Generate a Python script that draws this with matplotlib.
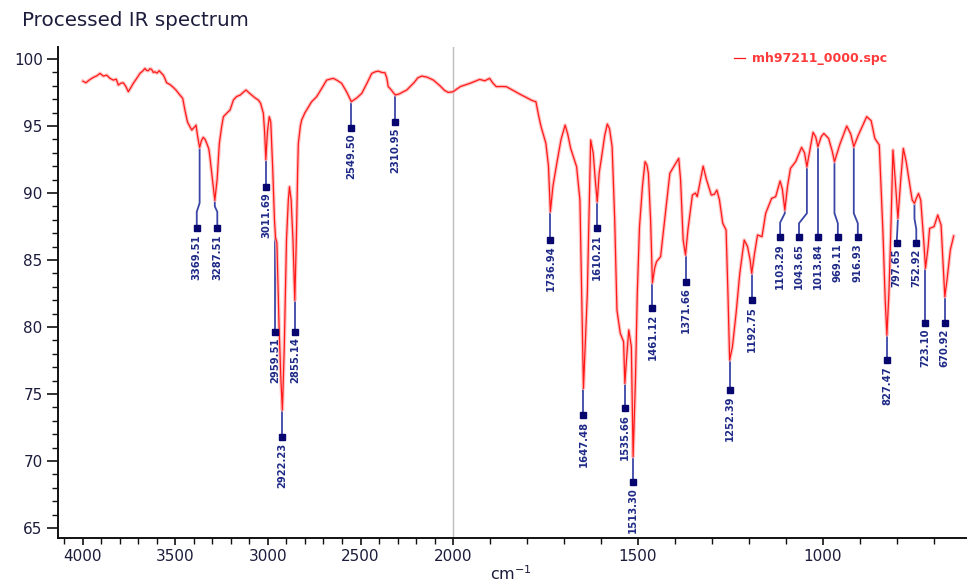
import numpy as np
import matplotlib
matplotlib.use("Agg")
import matplotlib.pyplot as plt
from matplotlib.ticker import MultipleLocator, FormatStrFormatter

# ---- spectrum (wavenumber in cm^-1, transmittance in %) ----
wavenumber = [
    4000, 3984, 3965, 3944, 3925, 3908, 3890, 3872, 3854, 3836, 3820, 3809,
    3795, 3782, 3768, 3755, 3740, 3728, 3710, 3692, 3678, 3665, 3656, 3647,
    3638, 3629, 3620, 3611, 3600, 3588, 3575, 3566, 3557, 3548, 3530, 3512,
    3495, 3476, 3461, 3449, 3435, 3422, 3412, 3404, 3395, 3389, 3380, 3369.51,
    3360, 3350, 3340, 3331, 3320, 3314, 3300, 3287.51, 3275, 3263, 3250, 3241,
    3220, 3205, 3187, 3170, 3151, 3135, 3119, 3100, 3088, 3070, 3052, 3040,
    3025, 3018, 3011.69, 3003, 2993, 2985, 2975, 2965, 2959.51, 2952, 2940,
    2930, 2922.23, 2912, 2900, 2890, 2884, 2875, 2865, 2855.14, 2846, 2840,
    2836, 2825, 2818, 2800, 2791, 2765, 2737, 2710, 2683, 2665, 2647, 2625,
    2602, 2575, 2549.50, 2520, 2493, 2465, 2439, 2420, 2404, 2385, 2368, 2358,
    2350, 2340, 2331, 2320, 2310.95, 2290, 2270, 2250, 2210, 2190, 2169, 2140,
    2106, 2070, 2045, 2025, 2000, 1980, 1954, 1940, 1928, 1914, 1901, 1892,
    1883, 1870, 1856, 1840, 1820, 1800, 1785, 1776, 1768, 1762, 1749, 1742,
    1736.94, 1730, 1718, 1708, 1697, 1690, 1682, 1666, 1657, 1652, 1647.48,
    1640, 1637, 1632, 1628, 1621, 1615, 1610.21, 1605, 1597, 1590, 1583, 1577,
    1570, 1563, 1557, 1548, 1539, 1535.66, 1530, 1525, 1518, 1513.30, 1507,
    1502, 1496, 1488, 1481, 1476, 1472, 1466, 1461.12, 1455, 1450, 1439, 1430,
    1420, 1414, 1405, 1390, 1385, 1378, 1371.66, 1365, 1353, 1345, 1340, 1324,
    1315, 1302, 1294, 1287, 1280, 1271, 1262, 1257, 1252.39, 1245, 1235, 1225,
    1213, 1204, 1197, 1192.75, 1185, 1177, 1165, 1155, 1139, 1128, 1116, 1110,
    1103.29, 1096, 1088, 1074, 1058, 1050, 1043.65, 1035, 1027, 1020, 1013.84,
    1005, 998, 985, 975, 969.11, 955, 936, 925, 916.93, 905, 882, 870, 860,
    848, 838, 832, 827.47, 822, 817, 811, 805, 797.65, 790, 783, 775, 765, 759,
    752.92, 748, 742, 736, 728, 723.10, 716, 712, 700, 690, 681, 675, 670.92,
    665, 656, 647,
]
transmittance = [
    98.35, 98.23, 98.45, 98.63, 98.75, 98.93, 98.73, 98.80, 98.56, 98.43, 98.50, 98.06,
    98.20, 98.23, 97.95, 97.56, 97.90, 98.19, 98.55, 98.93, 99.10, 99.30, 99.15, 99.13,
    99.28, 99.23, 99.00, 99.05, 98.95, 99.13, 98.93, 98.81, 98.55, 98.23, 98.10, 97.89,
    97.65, 97.31, 97.07, 96.19, 95.30, 94.95, 94.70, 94.83, 94.95, 95.07, 94.20, 93.40,
    93.90, 94.16, 94.00, 93.71, 93.30, 92.71, 91.00, 89.45, 91.00, 93.70, 95.00, 95.70,
    96.00, 96.20, 96.94, 97.20, 97.31, 97.50, 97.69, 97.45, 97.31, 97.10, 96.94, 96.70,
    95.95, 94.50, 92.50, 94.60, 95.70, 95.30, 92.00, 88.00, 86.70, 86.30, 80.00,
    76.00, 73.80, 78.50, 86.50, 89.50, 90.47, 89.50, 86.50, 82.00, 87.00, 91.50,
    93.70, 95.00, 95.45, 96.00, 96.20, 96.80, 97.19, 97.80, 98.43, 98.50, 98.56, 98.40,
    98.19, 97.55, 96.82, 97.10, 97.44, 98.20, 98.93, 99.05, 99.10, 99.00, 98.98, 98.60,
    97.94, 97.80, 97.64, 97.45, 97.32, 97.40, 97.55, 97.69, 98.25, 98.60, 98.73, 98.65,
    98.43, 98.00, 97.65, 97.51, 97.56, 97.95, 98.19, 98.35, 98.48, 98.38, 98.56, 98.20,
    97.94, 97.95, 97.94, 97.70, 97.39, 97.10, 96.89, 96.82, 95.70, 94.95, 93.71, 92.00,
    88.60, 90.50, 92.46, 94.00, 95.07, 94.40, 93.33, 91.96, 89.48, 82.00, 75.42,
    80.50, 82.50, 89.00, 93.96, 92.96, 90.80, 89.35, 91.50, 92.96, 94.30, 95.15, 94.80,
    93.46, 88.00, 81.27, 79.53, 78.90, 75.80, 78.00, 79.78, 78.53, 70.32, 76.00,
    82.50, 87.49, 90.50, 92.34, 92.10, 91.47, 88.00, 83.30, 84.40, 84.88, 85.25, 87.50,
    90.00, 91.47, 91.90, 92.59, 91.00, 86.49, 85.37, 87.30, 89.85, 90.00, 89.73, 92.01,
    91.00, 89.85, 89.90, 90.22, 89.50, 87.74, 87.24, 82.50, 77.54, 78.50, 81.02, 84.00,
    86.49, 86.00, 85.00, 84.01, 85.50, 86.87, 86.74, 88.49, 89.60, 89.73, 90.90, 90.30,
    88.73, 90.50, 91.84, 92.34, 93.41, 93.00, 91.96, 93.30, 94.53, 94.20, 93.46,
    94.20, 94.45, 94.08, 93.10, 92.34, 93.60, 95.00, 94.40, 93.46, 94.30, 95.70, 95.40, 94.08,
    93.58, 86.99, 82.00, 79.40, 82.50, 86.99, 93.21, 91.00, 88.11, 91.00, 93.33, 92.30, 90.50, 89.48,
    89.23, 89.60, 89.97, 89.48, 86.50, 84.38, 86.00, 87.36, 87.49, 88.36, 87.61, 84.50, 82.26,
    83.50, 85.75, 86.79,
]

# ---- picked peaks ----
peak_wn = [3369.51, 3287.51, 3011.69, 2959.51, 2922.23, 2855.14, 2549.50, 2310.95,
           1736.94, 1647.48, 1610.21, 1535.66, 1513.30, 1461.12, 1371.66, 1252.39,
           1192.75, 1103.29, 1043.65, 1013.84, 969.11, 916.93, 827.47, 797.65,
           752.92, 723.10, 670.92]
peak_T = [93.40, 89.45, 92.50, 86.70, 73.80, 82.00, 96.82, 97.32,
          88.60, 75.42, 89.35, 75.80, 70.32, 83.30, 85.37, 77.54,
          84.01, 88.73, 91.96, 93.46, 92.34, 93.46, 79.40, 88.11,
          89.23, 84.38, 82.26]

# where each marker square sits (transmittance) and, when the leader bends,
# the wavenumber under the square
label_T = [87.36, 87.36, 90.47, 79.65, 71.80, 79.65, 94.87, 95.32,
           86.49, 73.43, 87.36, 73.93, 68.46, 81.39, 83.38, 75.30,
           82.00, 86.69, 86.69, 86.69, 86.69, 86.69, 77.50, 86.24,
           86.24, 80.32, 80.32]
label_wn = [3385, 3274, None, None, None, None, None, None,
            None, None, None, None, None, None, None, None,
            None, 1116, 1065, None, 960, 906, None, 801,
            748, None, None]
bend_T = [(89.25, 88.60), (89.00, 88.60), None, None, None, None, None, None,
          None, None, None, None, None, None, None, None,
          None, (88.49, 87.79), (88.49, 87.74), None, (88.49, 87.74), (88.49, 87.74), None, None,
          (88.10, 87.30), None, None]

TITLE = "Processed IR spectrum"
SERIES = "mh97211_0000.spc"

W, H = 970, 584
fig = plt.figure(figsize=(W / 100, H / 100), dpi=100)
ax = fig.add_axes([58 / W, 46 / H, (965.5 - 58) / W, (538 - 47) / H])


def fwd(w):
    w = np.asarray(w, dtype=float)
    return np.where(w >= 2000, w - 2000, 2 * (w - 2000))


def inv(u):
    u = np.asarray(u, dtype=float)
    return np.where(u >= 0, u + 2000, u / 2 + 2000)


ax.set_xscale("function", functions=(fwd, inv))
ax.set_xlim(4135, 615)
ax.set_ylim(64.25, 100.9)

text_col = "#1c1c3c"
lead_col = "#3a46a6"
sq_col = "#06066e"
lab_col = "#1e2a86"

# axis break line at 2000 cm^-1
ax.axvline(2000, color="#bdbdbd", lw=1.0, zorder=1)

# spectrum with a soft halo under the trace
ax.plot(wavenumber, transmittance, color="#ffb4b4", lw=2.6, alpha=0.8, zorder=3,
        solid_joinstyle="round")
ax.plot(wavenumber, transmittance, color="#ff1a1a", lw=0.9, zorder=4,
        label=SERIES)

# peak leaders, squares and labels
for i, (pw, pt) in enumerate(zip(peak_wn, peak_T)):
    lw_ = label_wn[i] if label_wn[i] is not None else pw
    lt = label_T[i]
    if bend_T[i] is not None:
        b1, b2 = bend_T[i]
        xs = [pw, pw, lw_, lw_]
        ys = [pt, b1, b2, lt]
    else:
        xs = [pw, lw_]
        ys = [pt, lt]
    ax.plot(xs, ys, color=lead_col, lw=1.3, zorder=2, solid_capstyle="butt")
    ax.plot([lw_], [lt], marker="s", ms=4.6, color=sq_col, mec=sq_col, zorder=5)
    ax.annotate(f"{pw:.2f}", xy=(lw_, lt), xytext=(0, -4), textcoords="offset points",
                rotation=90, ha="center", va="top", fontsize=7.2,
                fontweight="bold", color=lab_col, family="DejaVu Sans", zorder=6)

# axes styling
for s in ("top", "right"):
    ax.spines[s].set_visible(False)
for s in ("left", "bottom"):
    ax.spines[s].set_linewidth(1.4)
    ax.spines[s].set_color("#111111")

ax.xaxis.set_major_locator(MultipleLocator(500))
ax.xaxis.set_minor_locator(MultipleLocator(100))
ax.xaxis.set_major_formatter(FormatStrFormatter("%d"))
ax.yaxis.set_major_locator(MultipleLocator(5))
ax.yaxis.set_minor_locator(MultipleLocator(1))
ax.yaxis.set_major_formatter(FormatStrFormatter("%d"))

ax.tick_params(axis="y", which="major", direction="out", length=8, width=1.2,
               pad=3, labelsize=11, labelcolor=text_col, color="#111111")
ax.tick_params(axis="y", which="minor", direction="out", length=4, width=1.0,
               color="#111111")
ax.tick_params(axis="x", which="major", direction="out", length=5, width=1.2,
               pad=3, labelsize=11, labelcolor=text_col, color="#111111")
ax.tick_params(axis="x", which="minor", direction="out", length=4, width=1.0,
               color="#111111")

# axis unit under the x ticks
fig.text(511 / W, 1 - 574 / H, r"cm$^{-1}$", ha="center", va="center",
         fontsize=11.5, color=text_col)

fig.text(22 / W, 1 - 20 / H, TITLE, ha="left", va="center", fontsize=14.3,
         color=text_col)

leg = ax.legend(loc="upper left", bbox_to_anchor=(728 / W, 1 - 46 / H),
                bbox_transform=fig.transFigure, frameon=False, fontsize=9,
                handlelength=0.9, handletextpad=0.5, borderpad=0, labelcolor="#ff3a3a")
for t in leg.get_texts():
    t.set_fontweight("bold")

fig.savefig("out.png", dpi=100)
